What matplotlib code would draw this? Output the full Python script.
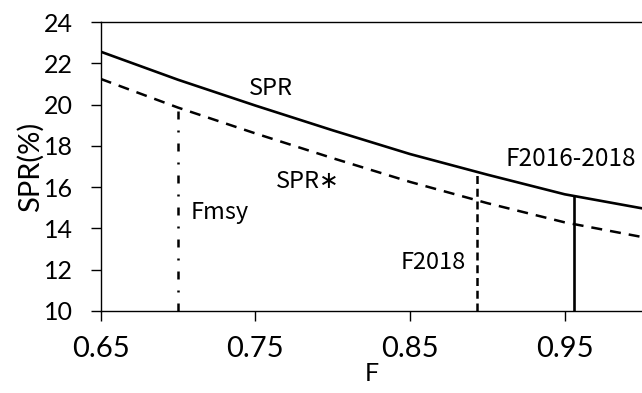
import numpy as np
import matplotlib
matplotlib.use('Agg')
import matplotlib.pyplot as plt

# data
f_vals = [0.65, 0.70, 0.75, 0.80, 0.85, 0.90, 0.95, 1.00]
spr = [22.56, 21.2, 19.95, 18.75, 17.6, 16.6, 15.65, 14.97]
spr_star = [21.24, 19.85, 18.6, 17.4, 16.25, 15.22, 14.29, 13.58]

ref_names = ['Fmsy', 'F2018', 'F2016-2018']
ref_f = [0.700, 0.893, 0.956]

tick_font = 'Lato'
label_font = ['Noto Sans CJK JP', 'DejaVu Sans']

fig = plt.figure(figsize=(6.42, 3.93), dpi=100)
ax = fig.add_axes([0.157, 0.209, 0.843, 0.735])

ax.plot(f_vals, spr, color='black', lw=1.9)
ax.plot(f_vals, spr_star, color='black', lw=1.8, ls=(0, (4.4, 3.2)))

# reference F lines, from the axis up to the curve
fmsy_top = np.interp(ref_f[0], f_vals, spr_star)
f18_top = np.interp(ref_f[1], f_vals, spr)
f1618_top = np.interp(ref_f[2], f_vals, spr)
ax.plot([ref_f[0], ref_f[0]], [10, fmsy_top], color='black', lw=1.8,
        ls=(0, (3.2, 4.4, 0.8, 4.4)))
ax.plot([ref_f[1], ref_f[1]], [10, f18_top], color='black', lw=1.8,
        ls=(0, (3.2, 1.9)))
ax.plot([ref_f[2], ref_f[2]], [10, f1618_top], color='black', lw=1.9)

ax.set_xlim(0.65, 1.0)
ax.set_ylim(10, 24)
ax.set_xticks([0.65, 0.75, 0.85, 0.95])
ax.set_xticklabels(['0.65', '0.75', '0.85', '0.95'])
ax.set_yticks(range(10, 25, 2))

for lab in ax.get_xticklabels():
    lab.set_fontfamily(tick_font)
    lab.set_fontsize(21)
for lab in ax.get_yticklabels():
    lab.set_fontfamily(tick_font)
    lab.set_fontsize(18)
ax.tick_params(axis='both', direction='out', length=7, width=1)
ax.tick_params(axis='y', pad=13)
ax.tick_params(axis='x', pad=11)

ax.set_xlabel('F', fontfamily=tick_font, fontsize=18, labelpad=0)
ax.set_ylabel('SPR(%)', fontfamily=tick_font, fontsize=21, labelpad=0)

# curve / line labels
ax.text(0.760, 20.8, 'SPR', family=label_font, fontsize=17, ha='center', va='center')
ax.text(0.784, 16.28, 'SPR\u2217', family=label_font, fontsize=17, ha='center', va='center')
ax.text(0.708, 14.78, ref_names[0], family=label_font, fontsize=17, ha='left', va='center')
ax.text(0.886, 12.35, ref_names[1], family=label_font, fontsize=17, ha='right', va='center')
ax.text(0.912, 17.35, ref_names[2], family=label_font, fontsize=17.5, ha='left', va='center')

ax.spines['right'].set_visible(False)
for s in ['top', 'left', 'bottom']:
    ax.spines[s].set_linewidth(1.0)

fig.savefig('out.png', dpi=100)
